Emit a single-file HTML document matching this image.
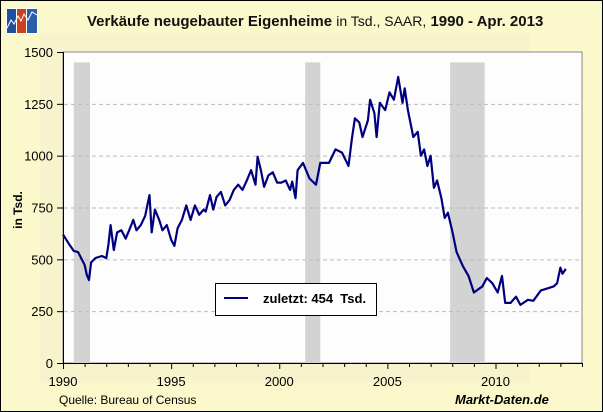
<!DOCTYPE html>
<html><head><meta charset="utf-8"><style>
body{margin:0;background:#fff}
#c{position:relative;width:601px;height:410px;border:1px solid #000;background:#fbf8cb;overflow:hidden;font-family:"Liberation Sans",sans-serif}
svg{position:absolute;left:-1px;top:-1px}
</style></head><body>
<div id="c">
<svg id="s" width="603" height="412">
<rect x="40" y="33" width="490" height="350" fill="#f7f4cd"/>
<g>
<rect x="6" y="8" width="32" height="26" fill="#ffffff"/>
<rect x="7" y="9" width="9" height="24" fill="#1f4e9c"/><rect x="17" y="9" width="9" height="24" fill="#c8401e"/><rect x="27" y="9" width="10" height="24" fill="#2b5ea8"/>
<polyline points="7,28 11,20 14,24 18,16 21,21 24,14 28,20 32,12 37,15" fill="none" stroke="#fff" stroke-width="1"/>
</g>
<text x="87" y="26" font-size="15" font-weight="bold" fill="#111">Verkäufe neugebauter Eigenheime <tspan font-weight="normal" font-size="14">in Tsd., SAAR,</tspan> 1990 - Apr. 2013</text>
<rect x="63" y="52" width="519" height="311" fill="#fdfdfd" stroke="#888" stroke-width="1"/>
<g id="rec"></g><g id="grid"></g><g id="axes"></g>
<polyline id="line" fill="none" stroke="#00007f" stroke-width="2.2" stroke-linejoin="round"/>
<text x="22" y="210" font-size="12" font-weight="bold" transform="rotate(-90 22 210)" text-anchor="middle">in Tsd.</text>
<g>
<rect x="215.5" y="283.5" width="161" height="32" fill="#fff" stroke="#000"/>
<line x1="224" y1="298" x2="248" y2="298" stroke="#00007f" stroke-width="2"/>
<text x="263" y="303" font-size="13" font-weight="bold" xml:space="preserve">zuletzt: 454  Tsd.</text>
</g>
<text x="59" y="404" font-size="12">Quelle: Bureau of Census</text>
<text x="455" y="404" font-size="13" font-weight="bold" font-style="italic">Markt-Daten.de</text>
</svg></div>
<script>
const dates=[1990.0,1990.3,1990.5,1990.7,1991.0,1991.1,1991.2,1991.3,1991.5,1991.8,1992.0,1992.1,1992.2,1992.35,1992.5,1992.7,1992.9,1993.1,1993.25,1993.4,1993.6,1993.8,1993.9,1994.0,1994.1,1994.25,1994.45,1994.6,1994.8,1995.0,1995.15,1995.3,1995.5,1995.7,1995.9,1996.1,1996.3,1996.5,1996.6,1996.8,1996.95,1997.1,1997.3,1997.5,1997.7,1997.9,1998.1,1998.3,1998.5,1998.7,1998.9,1999.0,1999.15,1999.3,1999.5,1999.7,1999.9,2000.1,2000.3,2000.5,2000.6,2000.75,2000.85,2001.1,2001.4,2001.7,2001.9,2002.3,2002.6,2002.9,2003.2,2003.35,2003.5,2003.7,2003.85,2004.1,2004.2,2004.4,2004.5,2004.65,2004.9,2005.1,2005.3,2005.5,2005.7,2005.8,2005.95,2006.2,2006.4,2006.55,2006.7,2006.85,2007.0,2007.15,2007.3,2007.5,2007.65,2007.8,2008.0,2008.2,2008.5,2008.75,2009.0,2009.2,2009.4,2009.6,2009.85,2010.1,2010.3,2010.45,2010.7,2010.95,2011.15,2011.5,2011.75,2012.1,2012.4,2012.7,2012.85,2013.0,2013.1,2013.25];
const values=[620,570,540,535,473,425,400,485,506,516,506,570,665,545,630,640,600,650,690,640,665,710,760,810,630,740,690,640,665,595,565,650,690,760,690,760,715,740,730,810,740,800,825,760,785,835,860,835,880,930,860,995,930,850,905,920,870,870,880,835,875,795,930,965,890,860,965,965,1030,1015,950,1075,1180,1160,1090,1170,1270,1205,1090,1255,1220,1305,1270,1380,1255,1325,1220,1090,1115,1000,1030,950,1000,845,880,795,700,725,635,535,465,420,340,355,370,410,385,340,420,290,290,320,280,305,300,350,360,370,385,460,430,454];
const recStart=[1990.5,2001.2,2007.9], recEnd=[1991.25,2001.9,2009.5];
const yTicks=[0,250,500,750,1000,1250,1500];
const xTicks=[1990,1995,2000,2005,2010];
const NS='http://www.w3.org/2000/svg';
const X=t=>63+(t-1990)*519/24, Y=v=>363-v*311/1500;
function mk(tag,at,parent){const e=document.createElementNS(NS,tag);for(const k in at)e.setAttribute(k,at[k]);document.getElementById(parent).appendChild(e);return e;}
recStart.forEach((s,i)=>{const r=mk('rect',{x:X(s),y:Y(1450),width:X(recEnd[i])-X(s),height:Y(0)-Y(1450),fill:'#d3d3d3'},'rec');

});
yTicks.forEach(v=>{if(v>0&&v<1500){const g=mk('line',{x1:64,x2:581,y1:Y(v)+.5,y2:Y(v)+.5,stroke:'#bbb','stroke-dasharray':'4,3'},'grid');

}
mk('line',{x1:57,x2:63,y1:Y(v)+.5,y2:Y(v)+.5,stroke:'#000'},'axes');
const t=mk('text',{x:53,y:Y(v)+5,'font-size':13,'text-anchor':'end'},'axes');t.textContent=v;

});
mk('line',{x1:63.5,x2:63.5,y1:52,y2:363,stroke:'#000'},'axes');
mk('line',{x1:63,x2:582,y1:363.5,y2:363.5,stroke:'#000'},'axes');
for(let y=1990;y<=2014;y++){const big=y%5==0;mk('line',{x1:X(y)+.5,x2:X(y)+.5,y1:363,y2:big?369:367,stroke:'#000'},'axes');}
xTicks.forEach(y=>{const t=mk('text',{x:X(y),y:386,'font-size':13,'text-anchor':'middle'},'axes');t.textContent=y;

});
document.getElementById('line').setAttribute('points',dates.map((d,i)=>X(d).toFixed(1)+','+Y(values[i]).toFixed(1)).join(' '));
</script>
</body></html>
